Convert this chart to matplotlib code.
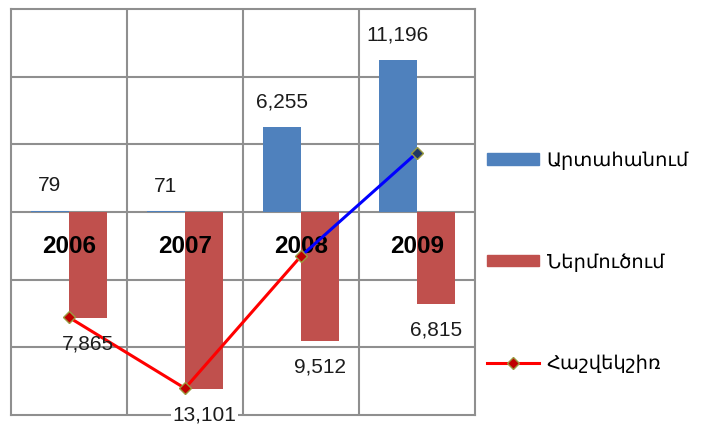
import numpy as np
import matplotlib
matplotlib.use("Agg")
import matplotlib.pyplot as plt
from matplotlib.lines import Line2D
from matplotlib.patches import Patch

years = ["2006", "2007", "2008", "2009"]
export = [79, 71, 6255, 11196]
imports = [7865, 13101, 9512, 6815]
balance = [e - i for e, i in zip(export, imports)]
names = ["Արտահանում", "Ներմուծում", "Հաշվեկշիռ"]

BLUE, RED = "#4F81BD", "#C0504D"
GRID = "#8f8f8f"

fig = plt.figure(figsize=(7.19, 4.25), dpi=100)
ax = fig.add_axes([11 / 719, 10 / 425, 464 / 719, 406 / 425])

x = np.arange(len(years))
w = 0.33
ax.bar(x - w / 2, export, w, color=BLUE, zorder=2)
ax.bar(x + w / 2, [-v for v in imports], w, color=RED, zorder=2)

# balance line: red while negative, blue for the final (positive) leg
for i in range(len(x) - 1):
    c = "#0000FF" if balance[i + 1] > 0 else "#FF0000"
    ax.plot(x[i:i + 2], balance[i:i + 2], color=c, lw=2.2, zorder=4)
for xi, b in zip(x, balance):
    ax.plot(xi, b, marker="D", ms=6, mfc="#1F3864" if b > 0 else "#C00000",
            mec="#9a9a40", mew=1, zorder=5)

lab = dict(ha="center", va="center", fontsize=15, color="#1c1c1c",
           family="Liberation Sans", textcoords="offset pixels", zorder=6)
for xi, v in zip(x, export):
    ax.annotate(f"{v:,}", (xi - w / 2, v), xytext=(0, 25), **lab)
for xi, v in zip(x, imports):
    bb = dict(fc="white", ec="none", pad=1) if v == max(imports) else None
    ax.annotate(f"{v:,}", (xi + w / 2, -v), xytext=(0, -26), bbox=bb, **lab)

for xi, yr in zip(x, years):
    ax.text(xi, -2550, yr, ha="center", va="center", fontsize=17.5,
            fontweight="bold", family="Liberation Sans", zorder=3)

ax.set_xlim(-0.5, 3.5)
ax.set_ylim(-15000, 15000)
for y in range(-10000, 15000, 5000):
    ax.axhline(y, color=GRID, lw=1.5, zorder=1)
for xv in (0.5, 1.5, 2.5):
    ax.axvline(xv, color=GRID, lw=1.5, zorder=1)
ax.set_xticks([])
ax.set_yticks([])
for s in ax.spines.values():
    s.set_color(GRID)
    s.set_linewidth(1.5)

handles = [Patch(color=BLUE), Patch(color=RED),
           Line2D([], [], color="#FF0000", lw=2.2, marker="D", ms=6,
                  mfc="#C00000", mec="#9a9a40")]
fig.legend(handles, names, loc="center left", bbox_to_anchor=(469 / 719, 1 - 262 / 425),
           frameon=False, prop={"family": "DejaVu Sans", "size": 14},
           handlelength=2.7, handleheight=0.5, labelspacing=4.25, handletextpad=0.4)

fig.savefig("out.png", dpi=100)
